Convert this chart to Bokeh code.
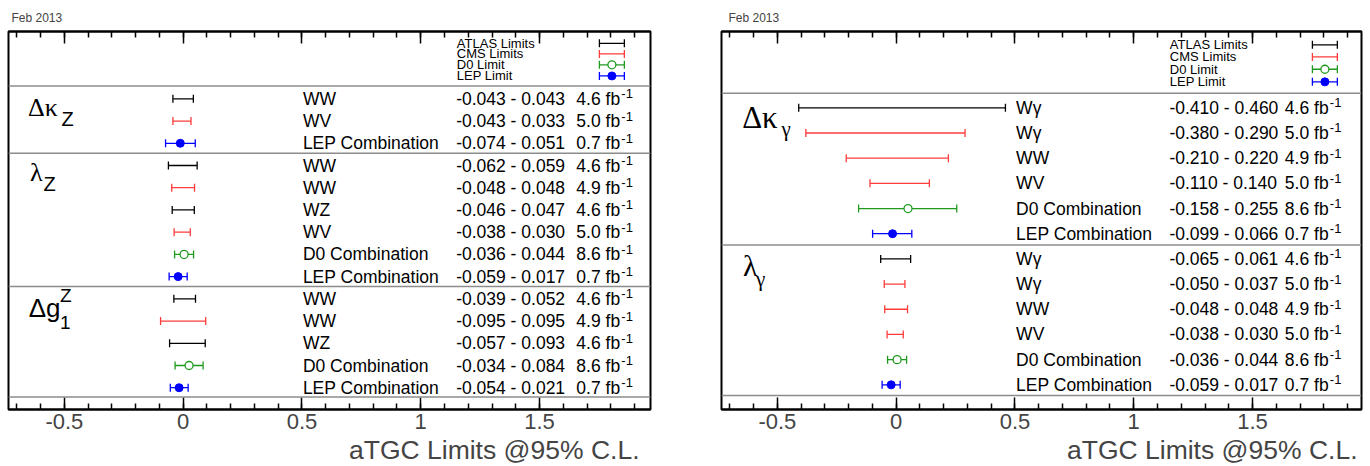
import math
from bokeh.plotting import figure
from bokeh.models import (ColumnDataSource, Range1d, SingleIntervalTicker, LinearAxis,
                          Span, Title, CustomJSTickFormatter)
from bokeh.layouts import row
from bokeh.embed import file_html
from bokeh.resources import INLINE
from bokeh.core.properties import value

NAN = float("nan")

# ---------------- data: Z couplings (left panel) ----------------
z_section_sizes = [3, 6, 5]
z_procs = ["WW", "WV", "LEP Combination",
           "WW", "WW", "WZ", "WV", "D0 Combination", "LEP Combination",
           "WW", "WW", "WZ", "D0 Combination", "LEP Combination"]
z_exps = ["ATLAS", "CMS", "LEP",
          "ATLAS", "CMS", "ATLAS", "CMS", "D0", "LEP",
          "ATLAS", "CMS", "ATLAS", "D0", "LEP"]
z_low = [-0.043, -0.043, -0.074,
         -0.062, -0.048, -0.046, -0.038, -0.036, -0.059,
         -0.039, -0.095, -0.057, -0.034, -0.054]
z_high = [0.043, 0.033, 0.051,
          0.059, 0.048, 0.047, 0.030, 0.044, 0.017,
          0.052, 0.095, 0.093, 0.084, 0.021]
z_center = [NAN, NAN, -0.012,
            NAN, NAN, NAN, NAN, 0.004, -0.021,
            NAN, NAN, NAN, 0.025, -0.017]
z_lumi = ["4.6", "5.0", "0.7",
          "4.6", "4.9", "4.6", "5.0", "8.6", "0.7",
          "4.6", "4.9", "4.6", "8.6", "0.7"]

# ---------------- data: photon couplings (right panel) ----------------
g_section_sizes = [6, 6]
g_procs = ["W\u03b3", "W\u03b3", "WW", "WV", "D0 Combination", "LEP Combination",
           "W\u03b3", "W\u03b3", "WW", "WV", "D0 Combination", "LEP Combination"]
g_exps = ["ATLAS", "CMS", "CMS", "CMS", "D0", "LEP",
          "ATLAS", "CMS", "CMS", "CMS", "D0", "LEP"]
g_low = [-0.410, -0.380, -0.210, -0.110, -0.158, -0.099,
         -0.065, -0.050, -0.048, -0.038, -0.036, -0.059]
g_high = [0.460, 0.290, 0.220, 0.140, 0.255, 0.066,
          0.061, 0.037, 0.048, 0.030, 0.044, 0.017]
g_center = [NAN, NAN, NAN, NAN, 0.050, -0.015,
            NAN, NAN, NAN, NAN, 0.004, -0.021]
g_lumi = ["4.6", "5.0", "4.9", "5.0", "8.6", "0.7",
          "4.6", "5.0", "4.9", "5.0", "8.6", "0.7"]

# ---------------- legend ----------------
leg_names = ["ATLAS Limits", "CMS Limits", "D0 Limit", "LEP Limit"]
leg_exps = ["ATLAS", "CMS", "D0", "LEP"]

COLORS = {"ATLAS": "#000000", "CMS": "#ff3b3b", "D0": "#1f9a1f", "LEP": "#0000ff"}
SANS = "Liberation Sans"
SERIF = "Liberation Serif"
SEP = "#8c8c8c"
X0 = -0.735
PX_PER_UNIT = 237.6
FRAME_H = 378


def build_panel(procs, exps, low, high, center, lumi, sec_sizes, sec_labels,
                cols, frame_w, b_left, b_right, date_dx, title_off):
    n = len(procs)
    ys = [-i for i in range(n)]
    y_lo, y_hi = -(n - 1) - 0.98, 3.03
    x_hi = X0 + frame_w / PX_PER_UNIT
    p = figure(frame_width=frame_w, frame_height=FRAME_H,
               x_range=Range1d(X0, x_hi), y_range=Range1d(y_lo, y_hi),
               output_backend="svg", toolbar_location=None,
               x_axis_location="below", y_axis_location=None,
               min_border_left=b_left, min_border_right=b_right,
               min_border_top=31, min_border_bottom=57,
               title="Feb 2013")
    p.grid.visible = False
    p.outline_line_color = "black"
    p.outline_line_width = 2
    p.background_fill_color = "white"
    p.border_fill_color = "white"
    p.title.text_font = SANS
    p.title.text_font_size = "12px"
    p.title.text_font_style = "normal"
    p.title.align = "left"
    p.title.standoff = 14
    p.title.offset = date_dx

    fmt = CustomJSTickFormatter(code="return String(Math.round(tick*10)/10);")
    bot = p.below[0]
    bot.ticker = SingleIntervalTicker(interval=0.5, num_minor_ticks=5)
    bot.formatter = fmt
    bot.major_label_text_font = SANS
    bot.major_label_text_font_size = "22px"
    bot.major_label_standoff = 4
    bot.major_tick_in = 12
    bot.major_tick_out = 0
    bot.minor_tick_in = 6
    bot.minor_tick_out = 0
    bot.axis_line_width = 2
    bot.major_tick_line_width = 1.5
    bot.minor_tick_line_width = 1.5

    top = LinearAxis(ticker=SingleIntervalTicker(interval=0.5, num_minor_ticks=5),
                     major_label_text_font_size="1px", major_label_text_color=None,
                     major_label_standoff=0,
                     major_tick_in=12, major_tick_out=0, minor_tick_in=6, minor_tick_out=0,
                     axis_line_width=2, major_tick_line_width=1.5, minor_tick_line_width=1.5)
    p.add_layout(top, "above")

    p.add_layout(Title(text="aTGC Limits @95% C.L.", align="right", text_font=SANS,
                       text_font_size="26.5px", text_font_style="normal", standoff=2,
                       offset=title_off), "below")

    # separators
    p.add_layout(Span(location=0.58, dimension="width", line_color=SEP, line_width=1.5))
    c = 0
    for s in sec_sizes[:-1]:
        c += s
        p.add_layout(Span(location=-(c - 0.55), dimension="width", line_color=SEP, line_width=1.5))
    p.add_layout(Span(location=-(n - 1) - 0.42, dimension="width", line_color=SEP, line_width=1.5))

    src = ColumnDataSource(dict(
        y=ys, lo=low, hi=high, c=center,
        color=[COLORS[e] for e in exps], proc=procs,
        vals=[f"{a:.3f} - {b:.3f}" for a, b in zip(low, high)],
        lumi=[f"{l} fb" for l in lumi], sup=["-1"] * n))

    p.segment(x0="lo", y0="y", x1="hi", y1="y", line_color="color", line_width=1.3, source=src)
    p.scatter(x="lo", y="y", marker="dash", angle=math.pi / 2, size=8,
              line_color="color", line_width=1.3, source=src)
    p.scatter(x="hi", y="y", marker="dash", angle=math.pi / 2, size=8,
              line_color="color", line_width=1.3, source=src)

    d0 = [i for i, e in enumerate(exps) if e == "D0"]
    lep = [i for i, e in enumerate(exps) if e == "LEP"]
    p.scatter(x=[center[i] for i in d0], y=[ys[i] for i in d0], marker="circle", size=8,
              fill_color="white", line_color=COLORS["D0"], line_width=1.3)
    p.scatter(x=[center[i] for i in lep], y=[ys[i] for i in lep], marker="circle", size=8,
              fill_color=COLORS["LEP"], line_color=COLORS["LEP"])

    lab_x, val_x, lumi_x, leg_x = cols
    common = dict(text_font=value(SANS), text_baseline="middle", text_align="left",
                  text_color="black", source=src)
    p.text(x=lab_x, y="y", text="proc", text_font_size="17.5px", **common)
    p.text(x=val_x, y="y", text="vals", text_font_size="17.5px", **common)
    p.text(x=lumi_x, y="y", text="lumi", text_font_size="17.5px", **common)
    p.text(x=lumi_x, y="y", text="sup", text_font_size="13px", x_offset=45, y_offset=-5, **common)

    # legend
    leg_y = [2.5, 2.02, 1.53, 1.03]
    lsrc = ColumnDataSource(dict(y=leg_y, name=leg_names,
                                 color=[COLORS[e] for e in leg_exps],
                                 x0=[1.752] * 4, x1=[1.857] * 4))
    p.text(x=leg_x, y="y", text="name", text_font=value(SANS), text_font_size="13px",
           text_baseline="middle", text_align="left", text_color="black", source=lsrc)
    p.segment(x0="x0", y0="y", x1="x1", y1="y", line_color="color", line_width=1.3, source=lsrc)
    p.scatter(x="x0", y="y", marker="dash", angle=math.pi / 2, size=8,
              line_color="color", line_width=1.3, source=lsrc)
    p.scatter(x="x1", y="y", marker="dash", angle=math.pi / 2, size=8,
              line_color="color", line_width=1.3, source=lsrc)
    p.scatter(x=[1.8045], y=[leg_y[2]], marker="circle", size=8, fill_color="white",
              line_color=COLORS["D0"], line_width=1.3)
    p.scatter(x=[1.8045], y=[leg_y[3]], marker="circle", size=8,
              fill_color=COLORS["LEP"], line_color=COLORS["LEP"])

    for txt, font, size, x, y in sec_labels:
        p.text(x=[x], y=[y], text=[txt], text_font=value(font), text_font_size=size,
               text_baseline="middle", text_align="left", text_color="black")
    return p


z_labels = [
    ("\u0394\u03ba", SERIF, "26px", -0.653, -0.40),
    ("Z", SANS, "20px", -0.512, -0.92),
    ("\u03bb", SERIF, "26px", -0.645, -3.30),
    ("Z", SANS, "20px", -0.588, -3.85),
    ("\u0394g", SANS, "26px", -0.65, -9.40),
    ("Z", SANS, "19px", -0.518, -8.86),
    ("1", SANS, "19px", -0.518, -10.05),
]
g_labels = [
    ("\u0394\u03ba", SERIF, "31px", -0.648, -0.40),
    ("\u03b3", SERIF, "21px", -0.482, -0.85),
    ("\u03bb", SERIF, "30px", -0.644, -6.28),
    ("\u03b3", SERIF, "21px", -0.59, -6.78),
]

p1 = build_panel(z_procs, z_exps, z_low, z_high, z_center, z_lumi, z_section_sizes,
                 z_labels, (0.504, 1.149, 1.655, 1.152), 642, 8, 58, 3, 11)
p2 = build_panel(g_procs, g_exps, g_low, g_high, g_center, g_lumi, g_section_sizes,
                 g_labels, (0.505, 1.15, 1.636, 1.152), 640, 13, 8, 7, 4)

layout = row(p1, p2)
open("out.html", "w").write(file_html(layout, INLINE))
